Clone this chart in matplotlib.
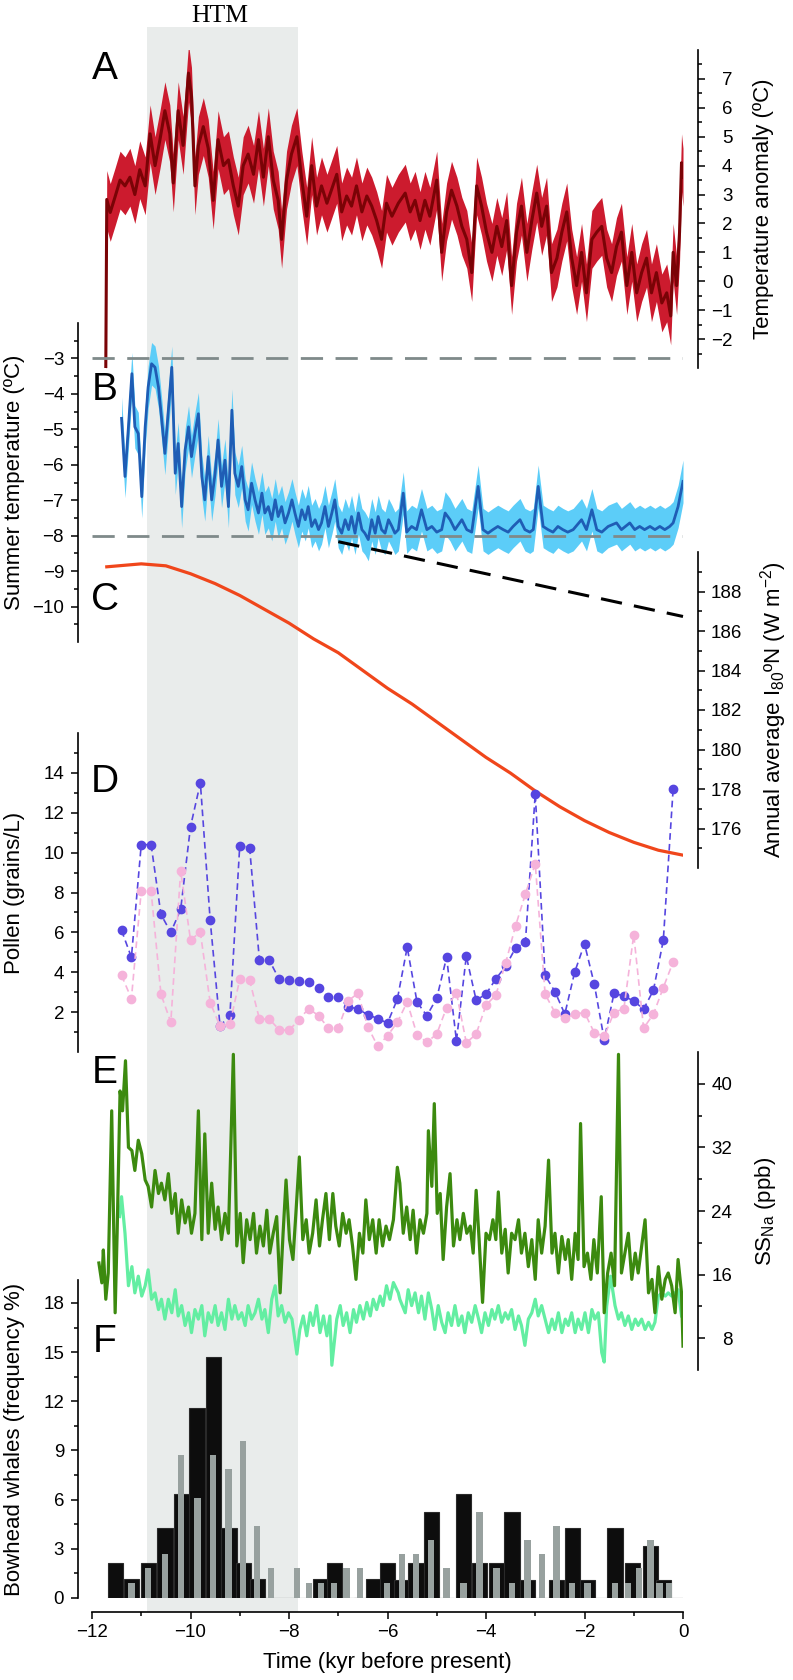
import matplotlib
matplotlib.use("Agg")
import matplotlib.pyplot as plt
from matplotlib.ticker import FixedLocator
import numpy as np

plt.rcParams['font.family'] = ['Liberation Sans', 'DejaVu Sans']
plt.rcParams['mathtext.fontset'] = 'custom'
plt.rcParams['mathtext.rm'] = 'Liberation Sans'
plt.rcParams['mathtext.it'] = 'Liberation Sans:italic'
plt.rcParams['mathtext.bf'] = 'Liberation Sans:bold'

# ---------------- data ----------------
htm_start, htm_end = -10.88, -7.82

# A: temperature anomaly (central line, band = +/- A_err)
A_t = [-11.72, -11.70, -11.63, -11.53, -11.43, -11.33, -11.23, -11.13, -11.03, -10.92,
       -10.82, -10.72, -10.62, -10.52, -10.42, -10.35, -10.25, -10.15, -10.04, -9.98,
       -9.91, -9.84, -9.74, -9.64, -9.54, -9.44, -9.33, -9.23, -9.13, -9.03,
       -8.93, -8.83, -8.72, -8.62, -8.52, -8.42, -8.32, -8.22, -8.15, -8.05,
       -7.95, -7.84, -7.74, -7.64, -7.54, -7.44, -7.34, -7.23, -7.13, -7.03,
       -6.93, -6.83, -6.73, -6.63, -6.52, -6.42, -6.32, -6.22, -6.12, -6.02,
       -5.91, -5.78, -5.64, -5.54, -5.44, -5.34, -5.24, -5.14, -5.00, -4.90,
       -4.80, -4.70, -4.59, -4.49, -4.39, -4.29, -4.19, -4.09, -3.99, -3.88,
       -3.78, -3.68, -3.58, -3.48, -3.38, -3.28, -3.17, -3.07, -2.97, -2.87,
       -2.77, -2.67, -2.56, -2.46, -2.36, -2.26, -2.16, -2.06, -1.96, -1.85,
       -1.75, -1.65, -1.55, -1.45, -1.35, -1.25, -1.14, -1.04, -0.94, -0.84,
       -0.74, -0.64, -0.54, -0.43, -0.33, -0.25, -0.20, -0.13, -0.07, -0.03, 0.0]
A_temp = [-3.0, 2.83, 2.38, 2.93, 3.5, 3.3, 3.6, 3.0, 3.86, 3.3,
          5.1, 4.0, 4.9, 5.9, 5.1, 3.4, 5.9, 4.7, 7.2, 6.4,
          3.3, 4.7, 5.35, 4.6, 2.8, 4.9, 4.0, 4.2, 3.3, 2.6,
          4.0, 4.4, 3.7, 4.9, 3.6, 5.0, 3.5, 2.8, 1.45, 3.5,
          4.4, 5.0, 3.5, 2.25, 4.0, 2.6, 3.3, 2.7, 3.2, 3.7,
          2.4, 2.95, 2.6, 3.3, 2.4, 2.95, 2.6, 2.1, 1.45, 2.7,
          2.25, 2.7, 3.05, 2.4, 2.8, 2.1, 2.8, 2.25, 3.5, 1.0,
          2.4, 3.15, 2.6, 1.9, 1.45, 0.3, 3.3, 2.6, 1.7, 1.0,
          1.9, 1.2, 2.1, -0.15, 1.7, 2.6, 1.0, 2.1, 3.05, 1.9,
          2.6, 0.3, 0.8, 1.7, 2.4, 0.8, -0.15, 1.0, -0.4, 1.45,
          1.7, 1.9, 0.8, 0.3, 1.2, 1.7, -0.15, 1.0, -0.4, 0.3,
          0.8, -0.4, 0.3, -0.75, -0.4, -1.2, 1.0, -0.15, 1.7, 4.1, 3.6]
A_err = 1.0

# B: summer temperature (central line, band = +/- B_err)
B_t = [-11.40, -11.33, -11.26, -11.19, -11.13, -11.06, -10.99, -10.92, -10.86, -10.79,
       -10.72, -10.65, -10.59, -10.52, -10.45, -10.38, -10.31, -10.25, -10.18, -10.11,
       -10.04, -9.98, -9.91, -9.84, -9.77, -9.71, -9.64, -9.57, -9.50, -9.44,
       -9.37, -9.30, -9.23, -9.16, -9.10, -9.03, -8.96, -8.89, -8.83, -8.76,
       -8.69, -8.62, -8.55, -8.49, -8.42, -8.35, -8.28, -8.22, -8.15, -8.08,
       -8.01, -7.94, -7.88, -7.81, -7.74, -7.67, -7.61, -7.54, -7.47, -7.40,
       -7.34, -7.27, -7.20, -7.13, -7.07, -7.00, -6.93, -6.86, -6.79, -6.73,
       -6.66, -6.59, -6.52, -6.46, -6.39, -6.32, -6.25, -6.19, -6.12, -6.05,
       -5.98, -5.91, -5.85, -5.78,
       -5.68, -5.61, -5.51, -5.41, -5.31, -5.20, -5.10, -5.00, -4.90, -4.83,
       -4.73, -4.63, -4.49, -4.39, -4.29, -4.16, -4.06, -3.96, -3.86, -3.76,
       -3.65, -3.55, -3.45, -3.31, -3.21, -3.11, -3.04, -2.94, -2.84, -2.74,
       -2.64, -2.54, -2.44, -2.34, -2.23, -2.06, -1.96, -1.85, -1.75, -1.65,
       -1.52, -1.35, -1.25, -1.08, -0.98, -0.88, -0.78, -0.67, -0.57, -0.47,
       -0.37, -0.27, -0.20, -0.10, 0.0]
B_temp = [-4.69, -6.33, -4.93, -3.43, -4.93, -5.12, -6.90, -4.93, -3.81, -3.15,
          -3.25, -3.81, -4.65, -5.68, -4.46, -3.25, -6.24, -5.40, -7.18, -5.59,
          -4.93, -5.77, -5.12, -4.56, -6.33, -6.99, -5.77, -6.99, -6.24, -5.30,
          -6.61, -5.87, -7.18, -4.46, -6.24, -6.61, -6.05, -6.99, -7.27, -6.52,
          -6.99, -7.36, -6.80, -7.36, -7.18, -7.55, -6.99, -7.46, -7.18, -7.64,
          -7.36, -6.99, -7.36, -7.74, -7.27, -7.55, -7.18, -7.74, -7.55, -7.83,
          -7.64, -7.18, -7.74, -7.36, -6.99, -7.74, -7.93, -7.55, -7.83, -7.46,
          -7.93, -7.36, -7.83, -7.93, -8.11, -7.55, -7.93, -7.46, -7.83, -7.93,
          -7.55, -7.74, -7.93, -7.83,
          -6.80, -7.90, -7.74, -7.83, -7.27, -7.83, -7.74, -7.90, -7.83, -7.36,
          -7.55, -7.83, -7.55, -7.83, -7.90, -6.61, -7.83, -7.93, -7.83, -7.74,
          -7.83, -7.90, -7.74, -7.55, -7.83, -7.90, -7.83, -6.61, -7.74, -7.83,
          -7.90, -7.74, -7.83, -7.90, -7.83, -7.55, -7.83, -7.27, -7.83, -7.90,
          -7.74, -7.64, -7.83, -7.64, -7.83, -7.74, -7.83, -7.74, -7.83, -7.74,
          -7.83, -7.74, -7.64, -7.18, -6.47]
B_err = 0.6
B_ref_levels = [-3, -8]
B_trend_t = [-7.0, 0.0]
B_trend_y = [-8.17, -10.28]

# C: annual average insolation at 80N
C_t = [-11.7, -11.0, -10.5, -10.0, -9.5, -9.0, -8.5, -8.0, -7.5, -7.0, -6.5, -6.0,
       -5.5, -5.0, -4.5, -4.0, -3.5, -3.0, -2.5, -2.0, -1.5, -1.0, -0.5, 0.0]
C_insol = [189.25, 189.4, 189.3, 188.9, 188.4, 187.8, 187.1, 186.4, 185.6, 184.9, 184.0, 183.1,
           182.3, 181.4, 180.5, 179.6, 178.8, 177.9, 177.1, 176.4, 175.8, 175.3, 174.9, 174.65]

# D: pollen (two records)
D_t = [-11.4, -11.2, -11.0, -10.8, -10.6, -10.4, -10.2, -10.0, -9.8, -9.6,
       -9.4, -9.2, -9.0, -8.8, -8.6, -8.4, -8.2, -8.0, -7.8, -7.6,
       -7.4, -7.2, -7.0, -6.8, -6.6, -6.4, -6.2, -6.0, -5.8, -5.6,
       -5.4, -5.2, -5.0, -4.8, -4.6, -4.4, -4.2, -4.0, -3.8, -3.6,
       -3.4, -3.2, -3.0, -2.8, -2.6, -2.4, -2.2, -2.0, -1.8, -1.6,
       -1.4, -1.2, -1.0, -0.8, -0.6, -0.4, -0.2]
D_blue = [6.1, 4.75, 10.4, 10.4, 6.9, 6.0, 7.15, 11.3, 13.5, 6.6,
          1.3, 1.85, 10.35, 10.25, 4.6, 4.6, 3.65, 3.6, 3.55, 3.52,
          3.23, 2.75, 2.75, 2.28, 2.15, 1.87, 1.68, 1.45, 2.65, 5.25,
          2.5, 1.82, 2.7, 4.75, 0.57, 4.8, 2.6, 2.9, 3.67, 4.3,
          5.22, 5.5, 12.96, 3.84, 3.03, 1.9, 4.0, 5.43, 3.39, 0.62,
          2.95, 2.8, 2.56, 2.15, 3.1, 5.6, 13.2]
D_pink = [3.84, 2.68, 8.08, 8.08, 2.9, 1.49, 9.08, 5.63, 6.0, 2.48,
          1.29, 1.4, 3.64, 3.6, 1.65, 1.65, 1.12, 1.08, 1.62, 2.18,
          1.82, 1.2, 1.2, 2.56, 2.95, 1.27, 0.29, 0.82, 1.49, 2.51,
          0.86, 0.49, 0.9, 2.23, 2.98, 0.46, 0.9, 2.35, 2.86, 4.47,
          6.33, 7.92, 9.45, 2.9, 1.98, 1.69, 1.9, 1.98, 0.96, 0.79,
          1.98, 2.18, 5.88, 1.2, 1.9, 3.23, 4.52]

# E: sea-salt Na (two records)
E1_t = [-11.86, -11.80, -11.77, -11.72, -11.67, -11.60, -11.53, -11.49, -11.43, -11.38,
        -11.32, -11.26, -11.19, -11.13, -11.06, -10.99, -10.92, -10.86, -10.79, -10.72,
        -10.65, -10.59, -10.52, -10.45, -10.38, -10.31, -10.25, -10.18, -10.11, -10.04,
        -9.98, -9.91, -9.84, -9.77, -9.71, -9.64, -9.57, -9.50, -9.44, -9.37,
        -9.30, -9.23, -9.13, -9.06, -8.99, -8.93, -8.86, -8.79, -8.72, -8.66,
        -8.59, -8.52, -8.45, -8.39, -8.32, -8.25, -8.18, -8.12, -8.06, -7.99,
        -7.92, -7.86, -7.79, -7.72, -7.65, -7.59, -7.52, -7.45, -7.38, -7.32,
        -7.25, -7.18, -7.11, -7.05, -6.98, -6.91, -6.84, -6.78, -6.71, -6.64,
        -6.57, -6.50, -6.44, -6.37, -6.30, -6.23, -6.17, -6.10, -6.03, -5.96,
        -5.88, -5.80,
        -5.75, -5.68, -5.61, -5.54, -5.48, -5.41, -5.34, -5.27, -5.20, -5.17,
        -5.10, -5.05, -4.99, -4.93, -4.87, -4.80, -4.73, -4.66, -4.59, -4.53,
        -4.46, -4.39, -4.32, -4.26, -4.20, -4.14, -4.07, -4.00, -3.93, -3.86,
        -3.80, -3.75, -3.68, -3.61, -3.55, -3.48, -3.41, -3.34, -3.28, -3.21,
        -3.14, -3.07, -3.00, -2.94, -2.87, -2.80, -2.73, -2.66, -2.60, -2.53,
        -2.46, -2.39, -2.33, -2.26, -2.19, -2.13, -2.08, -2.01, -1.94, -1.87,
        -1.81, -1.74, -1.66, -1.60, -1.53, -1.46, -1.39, -1.31, -1.25, -1.18,
        -1.11, -1.04, -0.97, -0.91, -0.84, -0.77, -0.70, -0.63, -0.57, -0.50,
        -0.43, -0.36, -0.30, -0.23, -0.16, -0.10, -0.03, 0.0]
E1_na = [17.46, 14.96, 19.1, 12.9, 16.2, 36.6, 11.2, 21.2, 39.1, 36.6,
         42.9, 32.0, 31.6, 29.1, 32.9, 31.2, 27.9, 27.1, 24.5, 29.1,
         26.2, 27.5, 25.4, 28.7, 23.7, 26.2, 21.2, 25.4, 22.5, 24.5,
         21.2, 23.7, 36.6, 20.4, 33.7, 21.2, 27.5, 21.7, 24.5, 20.4,
         23.7, 21.2, 43.7, 19.6, 23.7, 17.5, 22.9, 20.4, 23.7, 18.7,
         22.1, 19.6, 24.1, 18.7, 21.2, 23.3, 13.7, 21.2, 27.9, 20.4,
         17.9, 23.7, 30.8, 20.4, 22.9, 18.7, 21.2, 25.4, 19.6, 22.9,
         26.2, 20.4, 26.2, 22.1, 19.6, 23.7, 21.2, 22.9, 19.6, 15.4,
         21.2, 18.7, 25.4, 20.4, 22.9, 18.7, 22.9, 19.6, 22.1, 20.4,
         22.9, 29.5,
         27.5, 21.2, 24.5, 20.4, 24.1, 18.7, 22.9, 21.2, 23.7, 34.1,
         27.1, 37.5, 23.7, 26.2, 17.9, 24.5, 28.7, 19.6, 22.9, 20.4,
         23.7, 21.2, 22.1, 18.7, 26.6, 20.4, 12.5, 21.2, 20.4, 22.9,
         20.4, 26.4, 18.7, 21.7, 16.2, 21.2, 20.4, 22.9, 18.7, 21.2,
         17.0, 20.4, 15.4, 22.9, 18.7, 22.1, 30.4, 18.7, 21.2, 16.2,
         20.8, 17.9, 20.4, 15.4, 21.2, 17.9, 35.0, 17.0, 18.7, 15.4,
         20.4, 16.2, 25.8, 11.2, 16.2, 18.7, 14.6, 43.7, 16.2, 18.7,
         21.2, 15.4, 18.7, 16.2, 19.6, 22.9, 13.7, 15.4, 11.2, 17.0,
         12.9, 15.4, 16.2, 14.6, 11.2, 17.9, 13.7, 7.0]

E2_t = [-11.44, -11.40, -11.33, -11.26, -11.19, -11.13, -11.06, -10.99, -10.92, -10.86,
        -10.79, -10.72, -10.65, -10.59, -10.52, -10.45, -10.38, -10.31, -10.25, -10.18,
        -10.11, -10.04, -9.98, -9.91, -9.84, -9.77, -9.71, -9.64, -9.57, -9.50,
        -9.44, -9.37, -9.30, -9.23, -9.16, -9.10, -9.03, -8.96, -8.89, -8.83,
        -8.76, -8.69, -8.62, -8.55, -8.49, -8.42, -8.35, -8.28, -8.22, -8.15,
        -8.08, -8.01, -7.94, -7.84, -7.78, -7.71, -7.64, -7.57, -7.51, -7.44,
        -7.37, -7.30, -7.23, -7.17, -7.13, -7.03, -6.96, -6.90, -6.83, -6.76,
        -6.69, -6.63, -6.56, -6.49, -6.42, -6.35, -6.29, -6.22, -6.15, -6.09,
        -6.02, -5.95, -5.88, -5.78,
        -5.75, -5.64, -5.58, -5.51, -5.44, -5.37, -5.31, -5.24, -5.17, -5.10,
        -5.04, -4.97, -4.90, -4.83, -4.77, -4.70, -4.63, -4.56, -4.49, -4.43,
        -4.36, -4.29, -4.22, -4.15, -4.09, -4.02, -3.95, -3.88, -3.82, -3.75,
        -3.68, -3.61, -3.55, -3.48, -3.41, -3.34, -3.28, -3.21, -3.14, -3.07,
        -3.00, -2.94, -2.87, -2.80, -2.73, -2.66, -2.60, -2.53, -2.46, -2.39,
        -2.33, -2.26, -2.19, -2.13, -2.06, -1.99, -1.92, -1.85, -1.79, -1.72,
        -1.65, -1.60, -1.55, -1.47, -1.38, -1.31, -1.25, -1.18, -1.11, -1.04,
        -0.97, -0.91, -0.84, -0.77, -0.70, -0.63, -0.57, -0.50, -0.43, -0.36,
        -0.30, -0.23, -0.16, -0.10, -0.03]
E2_na = [23.3, 25.8, 21.2, 14.6, 17.0, 13.7, 15.8, 13.3, 14.6, 16.6,
         12.9, 13.7, 11.6, 12.9, 10.4, 12.9, 11.2, 14.1, 10.8, 12.1,
         9.6, 11.2, 8.7, 11.6, 10.4, 12.1, 8.3, 11.2, 10.0, 12.1,
         9.6, 11.2, 9.1, 12.9, 10.4, 12.1, 10.4, 11.2, 9.6, 12.1,
         10.4, 11.2, 12.9, 10.4, 11.6, 8.7, 12.9, 14.6, 10.8, 12.1,
         10.0, 11.2, 10.4, 6.0, 9.1, 10.8, 8.3, 11.2, 9.6, 12.1,
         8.7, 10.8, 8.3, 10.8, 4.6, 10.4, 12.1, 9.6, 11.2, 8.7,
         11.6, 10.0, 12.1, 10.4, 12.5, 10.8, 12.9, 11.6, 13.3, 12.1,
         14.6, 12.9, 15.0, 13.7,
         12.9, 11.2, 14.1, 12.1, 13.7, 11.2, 13.3, 10.4, 13.7, 11.6,
         9.1, 12.1, 10.0, 8.7, 11.2, 9.6, 12.1, 9.6, 10.8, 8.7,
         11.2, 10.0, 12.1, 10.4, 8.7, 11.2, 9.6, 11.6, 10.4, 12.1,
         10.0, 11.2, 10.4, 11.6, 9.1, 10.8, 9.6, 7.1, 10.4, 11.2,
         12.9, 10.8, 12.1, 10.4, 8.7, 10.4, 9.1, 11.2, 8.7, 10.4,
         9.6, 11.2, 8.7, 10.4, 9.1, 11.2, 8.7, 11.6, 10.4, 11.2,
         6.2, 5.0, 12.0, 15.8, 12.1, 10.4, 11.2, 9.6, 10.8, 9.1,
         10.4, 9.6, 10.4, 9.1, 10.0, 9.1, 10.0, 13.3, 13.7, 13.3,
         13.7, 13.3, 13.7, 14.1, 10.8]

# F: bowhead whale frequency histograms
F_black_t = [-11.53, -11.20, -10.86, -10.52, -10.19, -9.87, -9.54, -9.22, -8.93, -8.64,
             -8.35, -8.05, -7.75, -7.36, -7.07, -6.78, -6.53, -6.29, -6.00, -5.72,
             -5.42, -5.11, -4.80, -4.46, -4.13, -3.79, -3.47, -3.16, -2.86, -2.57,
             -2.25, -1.94, -1.66, -1.38, -1.03, -0.66, -0.40, -0.12]
F_black = [2.15, 1.14, 2.15, 4.25, 6.34, 11.57, 14.71, 4.25, 2.15, 1.14,
           0, 0, 0, 1.14, 2.15, 0, 0, 1.14, 2.15, 1.1,
           2.15, 5.27, 0, 6.34, 2.15, 2.15, 5.27, 1.1, 0, 1.1,
           4.25, 1.1, 0, 4.25, 2.15, 3.17, 1.1, 0]
F_gray_t = [-11.20, -10.86, -10.52, -10.19, -9.86, -9.54, -9.23, -8.93, -8.65, -8.37,
            -7.84, -7.59, -7.35, -7.09, -6.83, -6.56, -6.01, -5.71, -5.42, -5.12,
            -4.80, -4.46, -4.13, -3.79, -3.47, -3.16, -2.86, -2.57, -2.25, -1.94,
            -1.38, -1.12, -0.89, -0.66, -0.48, -0.28]
F_gray = [0.93, 1.81, 2.66, 8.72, 6.12, 8.72, 7.85, 9.57, 4.39, 1.81,
          1.81, 0.93, 0.93, 0.93, 1.81, 1.81, 0.93, 2.66, 2.66, 3.54,
          1.81, 0.93, 5.27, 1.81, 0.93, 3.54, 2.66, 4.39, 0.93, 0.93,
          0.93, 0.93, 1.81, 3.54, 0.93, 0.93]

# ---------------- figure ----------------
FW, FH = 793.0, 1680.0
X0, X1 = 92, 683
fig = plt.figure(figsize=(FW / 100, FH / 100), dpi=100)


def add_panel(top, bottom):
    ax = fig.add_axes([X0 / FW, 1 - bottom / FH, (X1 - X0) / FW, (bottom - top) / FH])
    ax.patch.set_visible(False)
    ax.set_xlim(-12, 0)
    for s in ax.spines.values():
        s.set_visible(False)
    ax.tick_params(axis='x', which='both', bottom=False, labelbottom=False)
    return ax


def set_yaxis(ax, side, ylim, major, minor, label, label_x, pad):
    ax.set_ylim(*ylim)
    sp = ax.spines[side]
    sp.set_visible(True)
    sp.set_position(('outward', 10.5 if side == 'right' else 10.1))
    sp.set_linewidth(1.2)
    ax.yaxis.set_major_locator(FixedLocator(major))
    ax.yaxis.set_minor_locator(FixedLocator(minor))
    if side == 'right':
        ax.yaxis.tick_right()
        ax.yaxis.set_label_position('right')
    else:
        ax.yaxis.tick_left()
    ax.tick_params(axis='y', which='major', length=5, width=1.1, labelsize=13.5, pad=pad)
    ax.tick_params(axis='y', which='minor', length=3, width=1.1)
    if side == 'right':
        for lab in ax.get_yticklabels():
            lab.set_horizontalalignment('right')
    ax.set_ylabel(label, fontsize=16)
    ax.yaxis.set_label_coords(label_x, 0.5)


# background shading for the HTM
bg = add_panel(27, 1612)
bg.set_yticks([])
bg.axvspan(htm_start, htm_end, color='#e9eceb', lw=0)
fig.text(220 / FW, 1 - 21.7 / FH, 'HTM', family='Liberation Serif', fontsize=18.5,
         ha='center', va='baseline')

# A
axA = add_panel(50, 368)
A_lo = [v - A_err for v in A_temp]
A_hi = [v + A_err for v in A_temp]
axA.fill_between(A_t, A_lo, A_hi, color='#cc1b2e', lw=0)
axA.plot(A_t, A_temp, color='#7a0306', lw=2.2)
set_yaxis(axA, 'right', (-3, 8), list(range(-2, 8)), list(np.arange(-2.5, 8, 1)),
          'Temperature anomaly (ºC)', 1.118, 20)

# B
axB = add_panel(323, 642)
B_lo = [v - B_err for v in B_temp]
B_hi = [v + B_err for v in B_temp]
axB.fill_between(B_t, B_lo, B_hi, color='#5ccdf8', lw=0)
axB.plot(B_t, B_temp, color='#1f5db5', lw=2.0)
for lvl in B_ref_levels:
    axB.axhline(lvl, color='#7f8a8a', lw=2.0, dashes=(8, 4.5), zorder=5)
axB.plot(B_trend_t, B_trend_y, color='black', lw=2.2, dashes=(7, 4), zorder=5, clip_on=False)
set_yaxis(axB, 'left', (-11, -2), list(range(-10, -2)), list(np.arange(-10.5, -2, 1)),
          'Summer temperature (ºC)', -0.113, 5)

# C
axC = add_panel(552, 868)
axC.plot(C_t, C_insol, color='#f0461b', lw=2.3)
set_yaxis(axC, 'right', (174, 190), list(range(176, 190, 2)), list(range(175, 190, 2)),
          'Annual average I$_{80}$ºN (W m$^{-2}$)', 1.127, 27)

# D
axD = add_panel(733, 1052)
axD.plot(D_t, D_blue, color='#5646e0', lw=1.2, dashes=(4, 2.5), marker='o', ms=6,
         mec='#5646e0', mfc='#5646e0', zorder=3)
axD.plot(D_t, D_pink, color='#f5b3da', lw=1.2, dashes=(4, 2.5), marker='o', ms=6,
         mec='#f5b3da', mfc='#f5b3da', zorder=4)
set_yaxis(axD, 'left', (0, 16), list(range(2, 16, 2)), list(range(1, 16, 2)),
          'Pollen (grains/L)', -0.113, 5)

# E
axE = add_panel(1052, 1370)
axE.plot(E2_t, E2_na, color='#63eea2', lw=2.3)
axE.plot(E1_t, E1_na, color='#3c8a0f', lw=2.3)
set_yaxis(axE, 'right', (4, 44), [8, 16, 24, 32, 40], [12, 20, 28, 36],
          'SS$_{\\mathrm{Na}}$ (ppb)', 1.118, 20)

# F
axF = add_panel(1280, 1598)
axF.bar(F_black_t, F_black, width=0.31, color='#0d0d0d', edgecolor='#2a2a2a', lw=0.8, zorder=2)
axF.bar(F_gray_t, F_gray, width=0.13, color='#98a19f', lw=0, zorder=3)
set_yaxis(axF, 'left', (0, 19.4), list(range(0, 19, 3)), list(np.arange(1.5, 19, 3)),
          'Bowhead whales (frequency %)', -0.113, 5)
axF.spines['bottom'].set_visible(True)
axF.spines['bottom'].set_position(('outward', 10.1))
axF.spines['bottom'].set_linewidth(1.2)
axF.xaxis.set_major_locator(FixedLocator(list(range(-12, 1, 2))))
axF.xaxis.set_minor_locator(FixedLocator(list(range(-11, 0, 2))))
axF.tick_params(axis='x', which='major', bottom=True, labelbottom=True, length=5,
                width=1.1, labelsize=13.5, pad=3.5)
axF.tick_params(axis='x', which='minor', bottom=True, length=3, width=1.1)
axF.set_xlabel('Time (kyr before present)', fontsize=16, labelpad=8)

# panel letters
for letter, base in [('A', 79), ('B', 400), ('C', 610), ('D', 792), ('E', 1083), ('F', 1352)]:
    fig.text(105 / FW, 1 - base / FH, letter, fontsize=28, ha='center', va='baseline')

fig.savefig('out.png', dpi=100)
